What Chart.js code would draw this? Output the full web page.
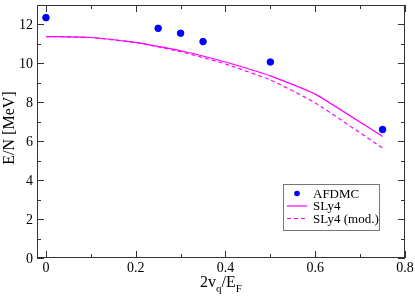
<!DOCTYPE html>
<html>
<head>
<meta charset="utf-8">
<script src="https://cdn.jsdelivr.net/npm/chart.js@4"></script>
<style>
  html, body { margin: 0; padding: 0; background: #fff; }
  #wrap { width: 415px; height: 298px; }
</style>
</head>
<body>
<div id="wrap"><canvas id="c" width="415" height="298"></canvas></div>
<script>
// AFDMC points
const afdmcX = [0, 0.25, 0.3, 0.35, 0.5, 0.75];
const afdmcY = [12.35, 11.8, 11.55, 11.12, 10.07, 6.6];

// SLy4 curves
const slyX = [0, 0.1, 0.2, 0.25, 0.3, 0.35, 0.4, 0.5, 0.6, 0.75];
const slyY = [11.38, 11.33, 11.08, 10.87, 10.65, 10.38, 10.07, 9.36, 8.42, 6.24];
const slyModY = [11.38, 11.33, 11.07, 10.85, 10.6, 10.3, 9.97, 9.15, 7.97, 5.65];

const yTicks = [0, 2, 4, 6, 8, 10, 12];
const xTicks = [0, 0.2, 0.4, 0.6, 0.8];

const serif = '"Liberation Serif", "Times New Roman", serif';
const toPts = (xs, ys) => xs.map((x, i) => ({ x: x, y: ys[i] }));

// frame, inside ticks, tick labels, axis titles, legend
const decor = {
    id: 'decor',
    afterDraw(chart) {
        const ctx = chart.ctx;
        const a = chart.chartArea;
        const xs = chart.scales.x, ys = chart.scales.y;
        ctx.save();
        ctx.strokeStyle = '#333';
        ctx.lineWidth = 1;
        ctx.strokeRect(a.left + 0.5, a.top + 0.5, a.right - a.left - 1, a.bottom - a.top - 1);

        ctx.beginPath();
        for (let v = 0; v <= 0.8001; v += 0.1) {
            const px = Math.round(xs.getPixelForValue(v)) + 0.5;
            const major = Math.round(v * 10) % 2 === 0;
            const len = major ? 7 : 4;
            ctx.moveTo(px, a.bottom); ctx.lineTo(px, a.bottom - len);
            ctx.moveTo(px, a.top); ctx.lineTo(px, a.top + len);
        }
        for (let v = 0; v <= 13; v += 1) {
            const py = Math.round(ys.getPixelForValue(v)) + 0.5;
            const len = v % 2 === 0 ? 7 : 4;
            ctx.moveTo(a.left, py); ctx.lineTo(a.left + len, py);
            ctx.moveTo(a.right, py); ctx.lineTo(a.right - len, py);
        }
        ctx.stroke();

        // tick labels
        ctx.fillStyle = '#000';
        ctx.font = '14px ' + serif;
        ctx.textAlign = 'right';
        ctx.textBaseline = 'middle';
        yTicks.forEach(v => ctx.fillText(String(v), a.left - 4, ys.getPixelForValue(v) + 1));
        ctx.textAlign = 'center';
        ctx.textBaseline = 'top';
        xTicks.forEach(v => ctx.fillText(String(v), xs.getPixelForValue(v), a.bottom + 3));

        // y title
        ctx.font = '16px ' + serif;
        ctx.textAlign = 'center';
        ctx.textBaseline = 'middle';
        ctx.save();
        ctx.translate(10, 128);
        ctx.rotate(-Math.PI / 2);
        ctx.fillText('E/N [MeV]', 0, 0);
        ctx.restore();

        // x title 2v_q/E_F
        const parts = [['2v', 0], ['q', 1], ['/E', 0], ['F', 1]];
        ctx.textAlign = 'left';
        ctx.textBaseline = 'alphabetic';
        let total = 0;
        parts.forEach(p => {
            ctx.font = (p[1] ? '11px ' : '16px ') + serif;
            total += ctx.measureText(p[0]).width;
        });
        let x = 221 - total / 2;
        parts.forEach(p => {
            ctx.font = (p[1] ? '11px ' : '16px ') + serif;
            ctx.fillText(p[0], x, p[1] ? 292 : 287);
            x += ctx.measureText(p[0]).width;
        });

        // legend
        const lx = 283, ly = 184, lw = 96, lh = 46;
        ctx.fillStyle = '#fff';
        ctx.fillRect(lx, ly, lw, lh);
        ctx.strokeStyle = '#777';
        ctx.strokeRect(lx + 0.5, ly + 0.5, lw, lh);
        ctx.font = '13px ' + serif;
        ctx.textBaseline = 'middle';
        chart.data.datasets.forEach((ds, i) => {
            const yy = ly + 9.5 + i * 12.5;
            if (ds.showLine) {
                ctx.strokeStyle = ds.borderColor;
                ctx.lineWidth = ds.borderWidth;
                ctx.setLineDash(ds.borderDash || []);
                ctx.beginPath();
                ctx.moveTo(lx + 4, yy); ctx.lineTo(lx + 24, yy);
                ctx.stroke();
                ctx.setLineDash([]);
            } else {
                ctx.fillStyle = ds.backgroundColor;
                ctx.beginPath();
                ctx.arc(lx + 14, yy, 2.8, 0, Math.PI * 2);
                ctx.fill();
            }
            ctx.fillStyle = '#000';
            ctx.fillText(ds.label, lx + 30, yy + 1);
        });
        ctx.restore();
    }
};

new Chart(document.getElementById('c'), {
    type: 'scatter',
    data: {
        datasets: [{
            label: 'AFDMC',
            data: toPts(afdmcX, afdmcY),
            backgroundColor: '#0000ff',
            borderColor: '#0000ff',
            pointRadius: 3.3,
            showLine: false
        }, {
            label: 'SLy4',
            data: toPts(slyX, slyY),
            borderColor: '#ff00ff',
            backgroundColor: '#ff00ff',
            borderWidth: 1.2,
            pointRadius: 0,
            showLine: true,
            tension: 0.15
        }, {
            label: 'SLy4 (mod.)',
            data: toPts(slyX, slyModY),
            borderColor: '#ff00ff',
            backgroundColor: '#ff00ff',
            borderWidth: 1.2,
            borderDash: [4, 3],
            pointRadius: 0,
            showLine: true,
            tension: 0.15
        }]
    },
    options: {
        responsive: false,
        animation: false,
        layout: { padding: { top: 1, right: 10, left: 0, bottom: 0 } },
        plugins: { legend: { display: false }, tooltip: { enabled: false } },
        scales: {
            x: {
                type: 'linear',
                min: -0.02, max: 0.8,
                grid: { display: false },
                border: { display: false },
                ticks: { display: false },
                afterFit: s => { s.height = 40; }
            },
            y: {
                min: 0, max: 13,
                grid: { display: false },
                border: { display: false },
                ticks: { display: false },
                afterFit: s => { s.width = 37; }
            }
        }
    },
    plugins: [decor]
});
</script>
</body>
</html>
